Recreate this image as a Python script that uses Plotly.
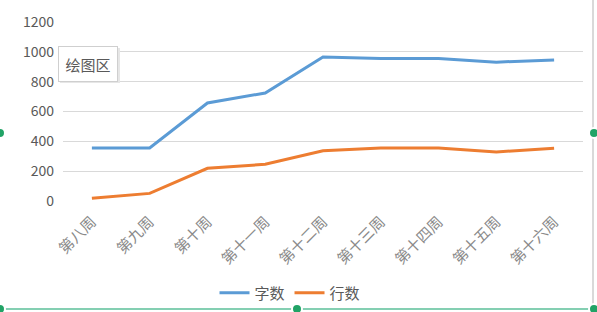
import plotly.graph_objects as go

categories = ["第八周", "第九周", "第十周", "第十一周", "第十二周", "第十三周", "第十四周", "第十五周", "第十六周"]
zishu = [355, 355, 657, 724, 966, 956, 956, 931, 946]
hangshu = [18, 51, 219, 246, 337, 356, 356, 329, 353]
y_ticks = [0, 200, 400, 600, 800, 1000, 1200]

W, H = 597, 312
L, R, T, B = 63, 14, 22, 111
pw, ph = W - L - R, H - T - B

def px(x):
    return (x - L) / pw

def py(y):
    return (H - B - y) / ph

font_fam = "Noto Sans CJK SC, Noto Sans, sans-serif"

fig = go.Figure()
fig.add_trace(go.Scatter(x=categories, y=zishu, name="字数", mode="lines",
                         line=dict(color="#5B9BD5", width=3)))
fig.add_trace(go.Scatter(x=categories, y=hangshu, name="行数", mode="lines",
                         line=dict(color="#ED7D31", width=3)))

shapes = [
    dict(type="line", xref="paper", yref="paper", x0=px(0), x1=px(W), y0=py(309), y1=py(309),
         line=dict(color="#5bbf98", width=1.5)),
    dict(type="line", xref="paper", yref="paper", x0=px(593), x1=px(593), y0=py(0), y1=py(309),
         line=dict(color="#d9d9d9", width=2)),
    dict(type="rect", xref="paper", yref="paper", x0=px(60), x1=px(120), y0=py(48), y1=py(83),
         fillcolor="#e6e6e6", line=dict(width=0), layer="above"),
]
for cx, cy in [(0, 133), (594, 133), (297, 309), (0, 309), (594, 309)]:
    r = 5
    shapes.append(dict(type="circle", xref="paper", yref="paper",
                       x0=px(cx - r), x1=px(cx + r), y0=py(cy - r), y1=py(cy + r),
                       fillcolor="#21a366", line=dict(color="white", width=2)))

fig.update_layout(
    width=W, height=H,
    margin=dict(l=L, r=R, t=T, b=B, autoexpand=False),
    paper_bgcolor="white", plot_bgcolor="white",
    font=dict(family=font_fam, color="#595959", size=13),
    showlegend=True,
    legend=dict(orientation="h", x=px(290), xanchor="center", y=py(293), yanchor="middle",
                bgcolor="rgba(0,0,0,0)",
                font=dict(size=15, color="#595959"), traceorder="normal"),
    xaxis=dict(type="category", range=[-0.5, 8.5], tickangle=-45, showgrid=False,
               showline=False, ticks="", automargin=False, ticklabelstandoff=8,
               tickfont=dict(size=15, color="#8a8a8a")),
    yaxis=dict(range=[0, 1200], tickvals=y_ticks, showgrid=True, gridcolor="#d9d9d9",
               gridwidth=1, zeroline=False, showline=False, ticks="", ticklen=0,
               automargin=False, ticklabelstandoff=8,
               tickfont=dict(size=14, color="#595959")),
    shapes=shapes,
    annotations=[dict(text="绘图区", xref="paper", yref="paper", x=px(58), y=py(46),
                      xanchor="left", yanchor="top", showarrow=False,
                      width=46, height=22,
                      font=dict(size=15, color="#595959"), bgcolor="white",
                      bordercolor="#cfcfcf", borderwidth=1, borderpad=6)],
)

fig.write_html("out.html")
